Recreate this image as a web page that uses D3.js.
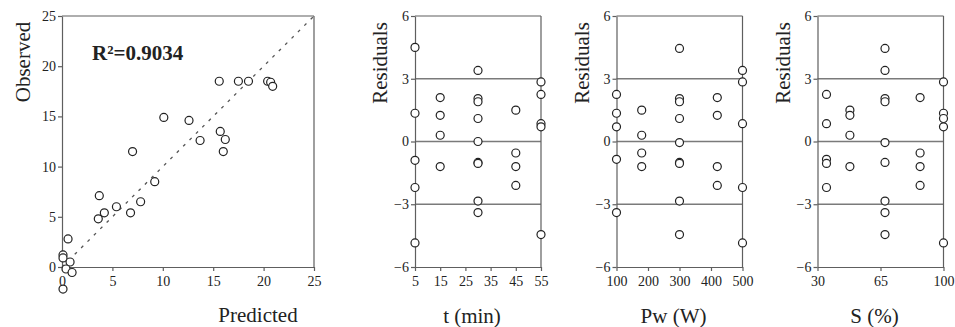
<!DOCTYPE html>
<html>
<head>
<meta charset="utf-8">
<script src="https://cdn.jsdelivr.net/npm/d3@7"></script>
<style>
  body { margin: 0; background: #fff; }
  text { font-family: 'Liberation Serif', serif; fill: #222; }
</style>
</head>
<body>
<svg width="955" height="327"></svg>
<script>
var svg = d3.select('svg');

// predicted vs observed (27 runs)
var predicted = [15.6, 17.5, 18.5, 20.4, 20.7, 20.9, 10.1, 12.6, 13.7, 15.7, 16.2, 16.0, 7.0, 9.2,
    3.7, 7.8, 5.4, 4.2, 6.8, 3.6, 0.6, 0.1, 0.1, 0.8, 0.4, 1.0, 0.1];
var observed = [18.5, 18.5, 18.5, 18.5, 18.4, 18.0, 14.9, 14.6, 12.6, 13.5, 12.7, 11.5, 11.5, 8.5,
    7.1, 6.5, 6.0, 5.4, 5.4, 4.8, 2.8, 1.2, 0.9, 0.5, -0.2, -0.55, -2.2];
var r2Label = 'R²=0.9034';

// residual plots
var tLevels = [5, 5, 5, 5, 5, 15, 15, 15, 15, 30, 30, 30, 30, 30, 30, 30, 30, 30,
    45, 45, 45, 45, 55, 55, 55, 55, 55];
var tResid = [4.5, 1.35, -0.9, -2.2, -4.85, 2.1, 1.25, 0.3, -1.2, 3.4, 2.05, 1.9, 1.1, 0, -1.0, -1.05, -2.85, -3.4,
    1.5, -0.55, -1.2, -2.1, 2.85, 2.25, 0.85, 0.7, -4.45];
var pwLevels = [100, 100, 100, 100, 100, 180, 180, 180, 180, 300, 300, 300, 300, 300, 300, 300, 300, 300,
    420, 420, 420, 420, 500, 500, 500, 500, 500];
var pwResid = [2.25, 1.35, 0.7, -0.85, -3.4, 1.5, 0.3, -0.55, -1.2, 4.45, 2.05, 1.9, 1.1, -0.05, -1.0, -1.05, -2.85, -4.45,
    2.1, 1.25, -1.2, -2.1, 3.4, 2.85, 0.85, -2.2, -4.85];
var sLevels = [35, 35, 35, 35, 35, 48, 48, 48, 48, 67.5, 67.5, 67.5, 67.5, 67.5, 67.5, 67.5, 67.5, 67.5,
    87, 87, 87, 87, 100, 100, 100, 100, 100];
var sResid = [2.25, 0.85, -0.85, -1.05, -2.2, 1.5, 1.25, 0.3, -1.2, 4.45, 3.4, 2.05, 1.9, -0.05, -1.0, -2.85, -3.4, -4.45,
    2.1, -0.55, -1.2, -2.1, 2.85, 1.35, 1.1, 0.7, -4.85];

var residPanels = [
    {label: 't (min)', domain: [5, 55], ticks: [5, 15, 25, 35, 45, 55], xs: tLevels, ys: tResid, left: 415},
    {label: 'Pw (W)', domain: [100, 500], ticks: [100, 200, 300, 400, 500], xs: pwLevels, ys: pwResid, left: 616.5},
    {label: 'S (%)', domain: [30, 100], ticks: [30, 65, 100], xs: sLevels, ys: sResid, left: 817.5}
];
var residTicks = [-6, -3, 0, 3, 6];

var plotTop = 16, plotBottom = 267;
var axisColor = '#5e5e5e';

function styleAxis(g) {
    g.attr('font-family', null).attr('font-size', null);
    g.selectAll('path').attr('stroke', axisColor).attr('stroke-width', 1.2);
    g.selectAll('line').attr('stroke', axisColor).attr('stroke-width', 1.2);
    g.selectAll('text')
        .style('font-size', '14px').attr('fill', '#333');
}

function drawPoints(g, xs, ys, x, y) {
    g.selectAll('.pt')
        .data(xs.map(function(d, i) { return [d, ys[i]]; }))
        .enter()
        .append('circle')
        .attr('class', 'pt')
        .attr('cx', function(d) { return x(d[0]); })
        .attr('cy', function(d) { return y(d[1]); })
        .attr('r', 4)
        .attr('fill', 'white')
        .attr('stroke', '#222')
        .attr('stroke-width', 1.2);
}

// ---- Panel 1: observed vs predicted
var x1 = d3.scaleLinear().domain([0, 25]).range([62, 314]);
var y1 = d3.scaleLinear().domain([0, 25]).range([plotBottom, plotTop]);
var p1 = svg.append('g');

p1.append('line')
    .attr('x1', x1(0)).attr('y1', plotTop).attr('x2', x1(25)).attr('y2', plotTop)
    .attr('stroke', axisColor).attr('stroke-width', 1.2);
p1.append('line')
    .attr('x1', x1(25)).attr('y1', plotTop).attr('x2', x1(25)).attr('y2', plotBottom)
    .attr('stroke', axisColor).attr('stroke-width', 1.2);
p1.append('g')
    .attr('transform', 'translate(0,' + plotBottom + ')')
    .call(d3.axisBottom(x1).tickValues([0, 5, 10, 15, 20, 25]).tickSize(4).tickPadding(5).tickSizeOuter(0))
    .call(styleAxis);
p1.append('g')
    .attr('transform', 'translate(' + x1(0) + ',0)')
    .call(d3.axisLeft(y1).tickValues([0, 5, 10, 15, 20, 25]).tickSize(4).tickPadding(2).tickSizeOuter(0))
    .call(styleAxis);
p1.append('line')
    .attr('x1', x1(0)).attr('y1', y1(0)).attr('x2', x1(25)).attr('y2', y1(25))
    .attr('stroke', '#555')
    .attr('stroke-width', 1.3)
    .attr('stroke-dasharray', '3,6');
drawPoints(p1, predicted, observed, x1, y1);

p1.append('text')
    .attr('x', 92).attr('y', 60)
    .style('font-size', '21px').style('font-weight', 'bold')
    .attr('fill', '#111')
    .text(r2Label);
p1.append('text')
    .attr('transform', 'translate(30,62) rotate(-90)')
    .style('text-anchor', 'middle').style('font-size', '21px')
    .text('Observed');
p1.append('text')
    .attr('x', 258).attr('y', 322)
    .style('text-anchor', 'middle').style('font-size', '21px')
    .text('Predicted');

// ---- Residual panels
var yr = d3.scaleLinear().domain([-6, 6]).range([plotBottom, plotTop]);

residPanels.forEach(function(p) {
    var x = d3.scaleLinear().domain(p.domain).range([p.left, p.left + 126]);
    var g = svg.append('g');

    // reference lines at -3, 0, 3
    g.selectAll('.ref')
        .data([-3, 0, 3])
        .enter()
        .append('line')
        .attr('x1', x.range()[0]).attr('x2', x.range()[1])
        .attr('y1', function(d) { return yr(d); })
        .attr('y2', function(d) { return yr(d); })
        .attr('stroke', '#7a7a7a')
        .attr('stroke-width', 1.5);

    g.append('line')
        .attr('x1', x.range()[0]).attr('y1', plotTop).attr('x2', x.range()[1]).attr('y2', plotTop)
        .attr('stroke', axisColor).attr('stroke-width', 1.2);
    g.append('line')
        .attr('x1', x.range()[1]).attr('y1', plotTop).attr('x2', x.range()[1]).attr('y2', plotBottom)
        .attr('stroke', axisColor).attr('stroke-width', 1.2);
    g.append('g')
        .attr('transform', 'translate(0,' + plotBottom + ')')
        .call(d3.axisBottom(x).tickValues(p.ticks).tickSize(4).tickPadding(5).tickSizeOuter(0))
        .call(styleAxis);
    g.append('g')
        .attr('transform', 'translate(' + p.left + ',0)')
        .call(d3.axisLeft(yr).tickValues(residTicks).tickSize(4).tickPadding(2).tickSizeOuter(0)
            .tickFormat(d3.format('d')))
        .call(styleAxis);

    drawPoints(g, p.xs, p.ys, x, yr);

    g.append('text')
        .attr('transform', 'translate(' + (p.left - 28) + ',63) rotate(-90)')
        .style('text-anchor', 'middle').style('font-size', '21px')
        .text('Residuals');
    g.append('text')
        .attr('x', p.left + 57).attr('y', 323)
        .style('text-anchor', 'middle').style('font-size', '21px')
        .text(p.label);
});
</script>
</body>
</html>
